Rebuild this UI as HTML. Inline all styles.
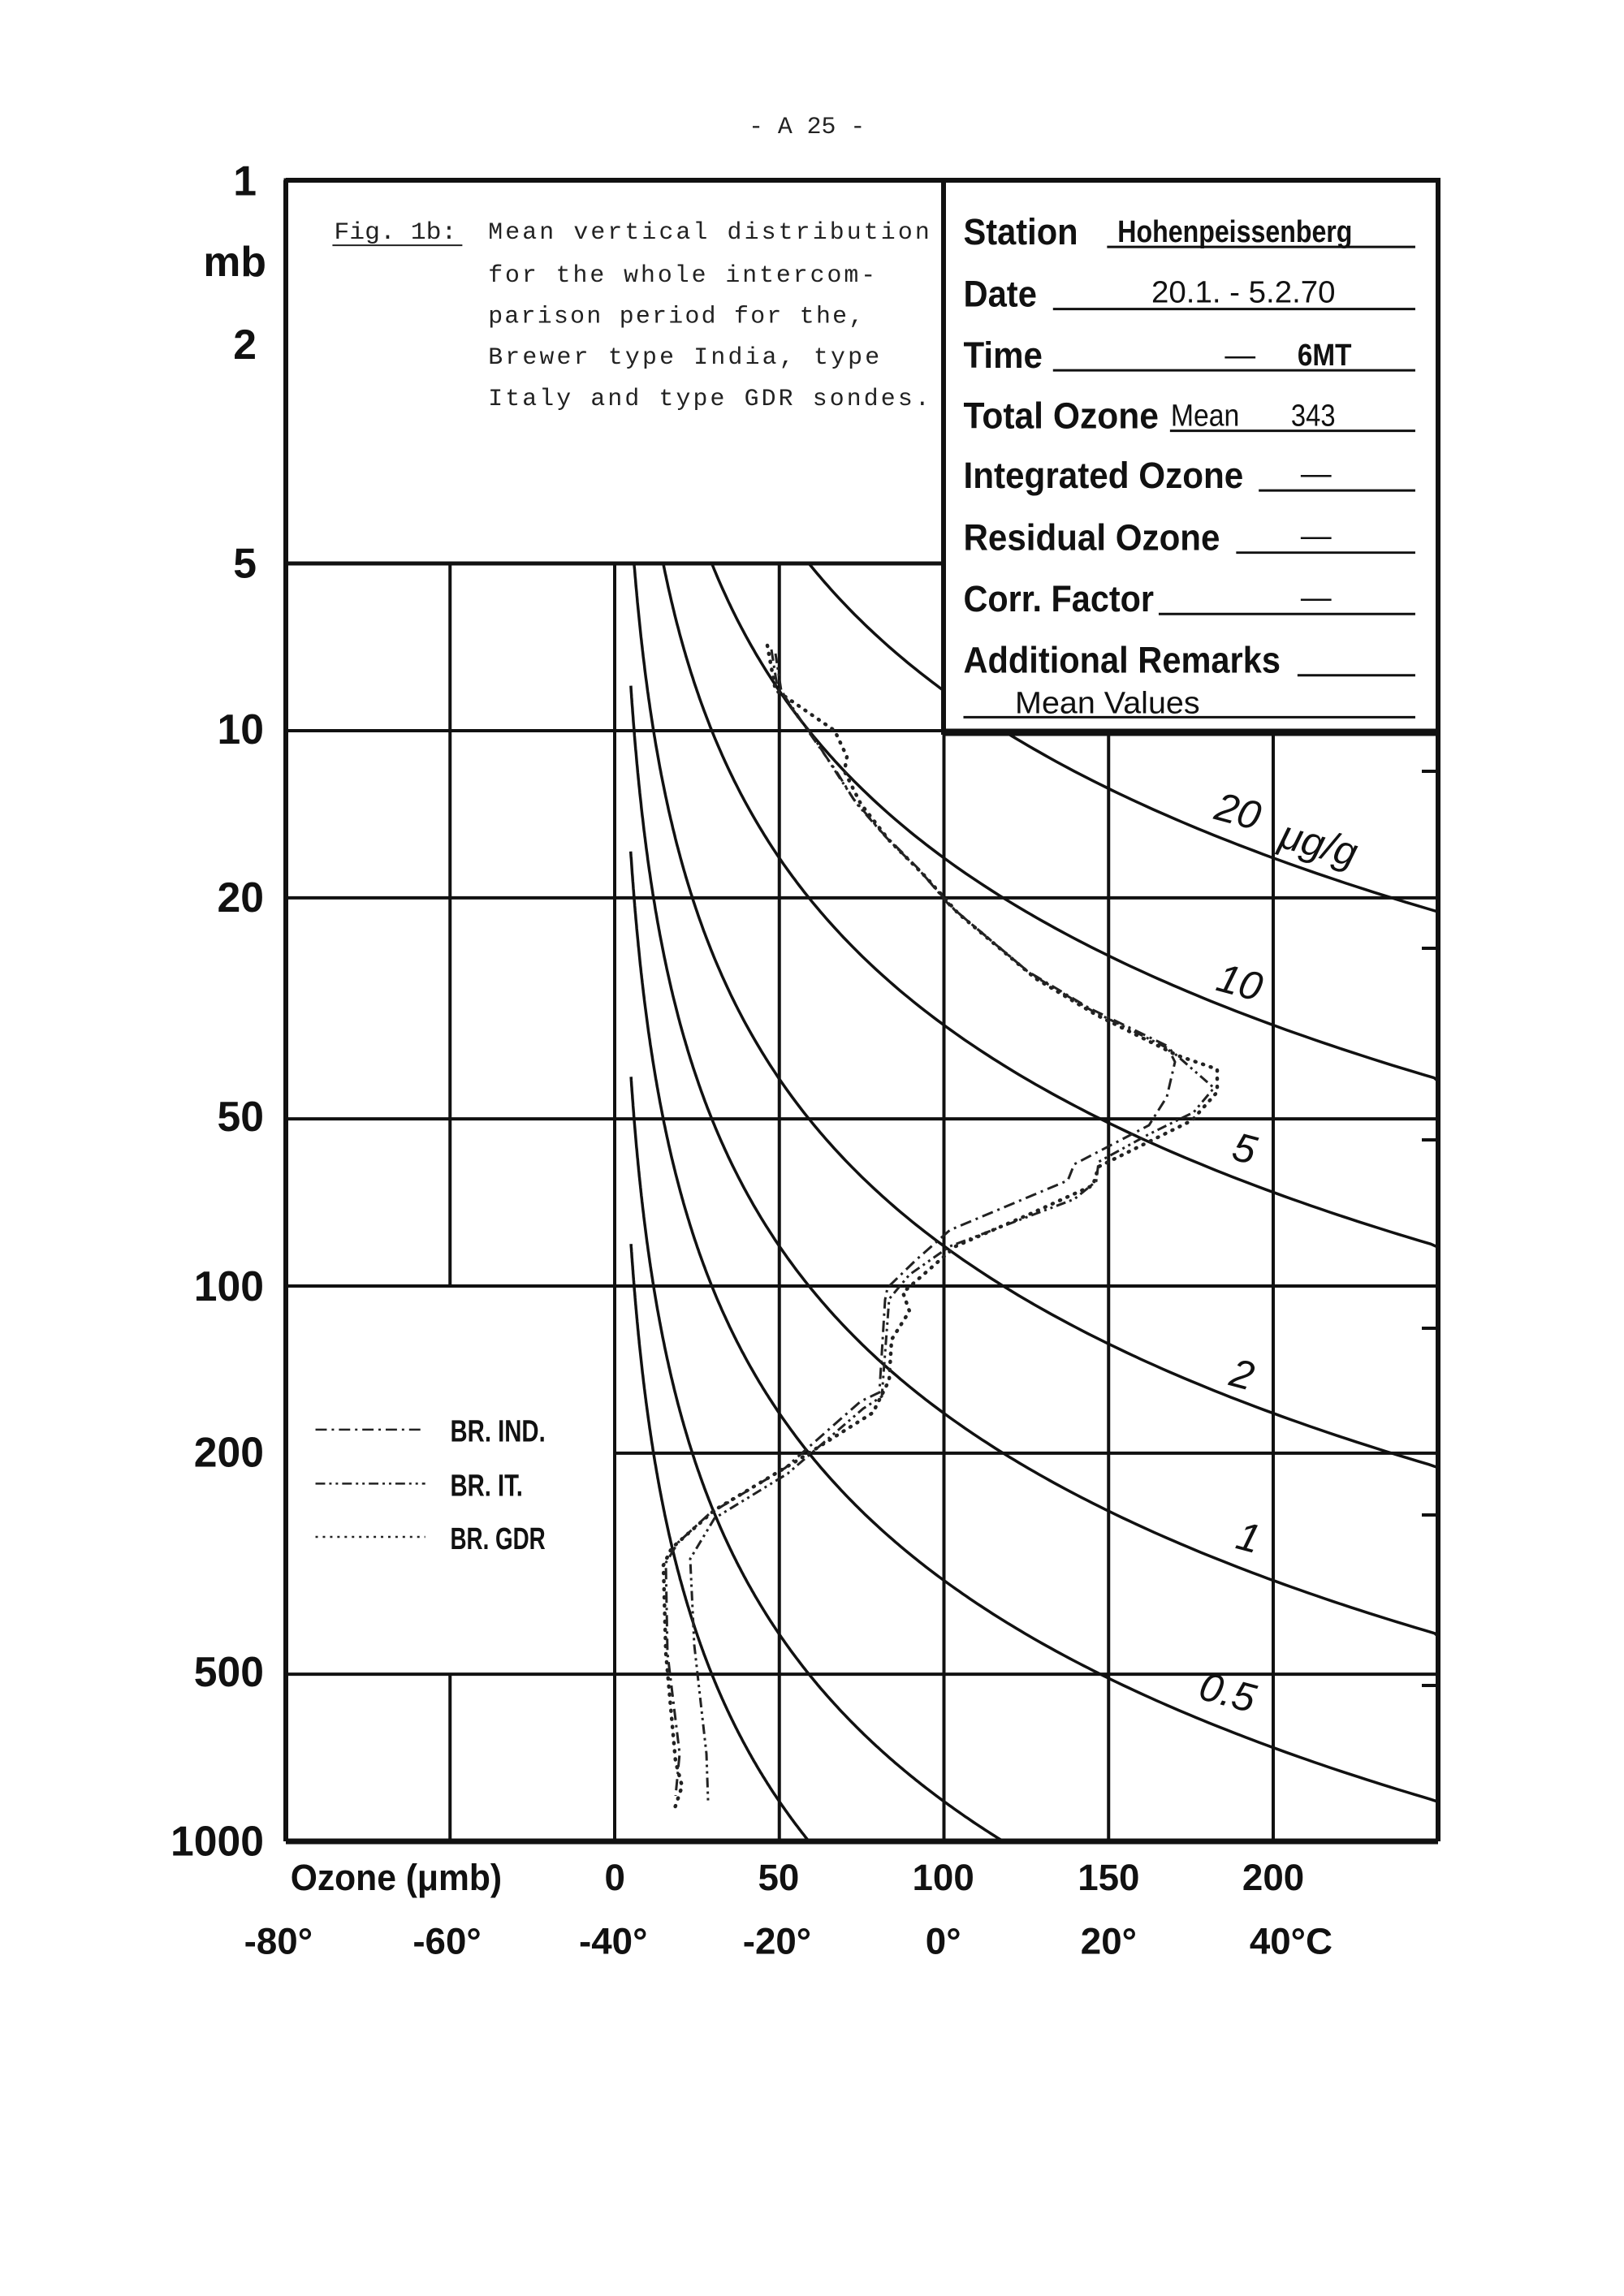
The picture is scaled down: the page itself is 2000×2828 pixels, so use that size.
<!DOCTYPE html>
<html><head><meta charset="utf-8"><style>
html,body{margin:0;padding:0;background:#fff}
svg{display:block}
.n{font-family:"Liberation Sans",sans-serif;font-weight:bold;fill:#111}
.m{font-family:"Liberation Mono",monospace;fill:#222}
.c{font-family:"Liberation Sans",sans-serif;font-style:italic;fill:#111}
</style></head><body>
<svg id="s" width="2000" height="2828" viewBox="0 0 2000 2828" xmlns="http://www.w3.org/2000/svg">
<rect width="2000" height="2828" fill="#fff"/>
<g id="grid" stroke="#111" fill="none"></g>
<g id="curves" stroke="#111" stroke-width="3.5" fill="none"></g>
<g id="series" fill="none" stroke="#222" stroke-width="3"></g>
<!-- header boxes -->
<rect x="352" y="222" width="810" height="472" fill="#fff" stroke="#111" stroke-width="5"/>
<rect x="1162" y="222" width="609" height="680" fill="#fff" stroke="#111" stroke-width="6"/>
<line x1="1162" y1="902" x2="1771" y2="902" stroke="#111" stroke-width="9"/>
<line x1="352" y1="222" x2="1771" y2="222" stroke="#111" stroke-width="6"/>
<line x1="352" y1="222" x2="352" y2="2268" stroke="#111" stroke-width="6"/>
<line x1="1771" y1="222" x2="1771" y2="2268" stroke="#111" stroke-width="6"/>
<line x1="352" y1="2268" x2="1771" y2="2268" stroke="#111" stroke-width="7"/>

<g transform="scale(0.9937)">
<text x="1000" y="165" class="m" font-size="30" text-anchor="middle">- A 25 -</text>

<!-- caption -->
<g class="m" font-size="30">
<text x="414" y="296" textLength="152" lengthAdjust="spacingAndGlyphs">Fig. 1b:</text>
<line x1="412" y1="304" x2="573" y2="304" stroke="#222" stroke-width="2"/>
<text x="605" y="296" textLength="547">Mean vertical distribution</text>
<text x="605" y="349" textLength="480">for the whole intercom-</text>
<text x="605" y="400" textLength="465">parison period for the,</text>
<text x="605" y="451" textLength="485">Brewer type India, type</text>
<text x="605" y="502" textLength="547">Italy and type GDR sondes.</text>
</g>

<!-- station block -->
<g class="n" font-size="46" style="font-weight:600">
<text x="1194" y="303" textLength="142" lengthAdjust="spacingAndGlyphs">Station</text>
<text x="1194" y="380" textLength="91" lengthAdjust="spacingAndGlyphs">Date</text>
<text x="1194" y="456" textLength="98" lengthAdjust="spacingAndGlyphs">Time</text>
<text x="1194" y="531" textLength="242" lengthAdjust="spacingAndGlyphs">Total Ozone</text>
<text x="1194" y="605" textLength="347" lengthAdjust="spacingAndGlyphs">Integrated Ozone</text>
<text x="1194" y="682" textLength="318" lengthAdjust="spacingAndGlyphs">Residual Ozone</text>
<text x="1194" y="758" textLength="236" lengthAdjust="spacingAndGlyphs">Corr. Factor</text>
<text x="1194" y="834" textLength="393" lengthAdjust="spacingAndGlyphs">Additional Remarks</text>
</g>
<g class="n" font-size="38">
<text x="1385" y="300" textLength="291" lengthAdjust="spacingAndGlyphs">Hohenpeissenberg</text>
<text x="1427" y="375" textLength="228" lengthAdjust="spacingAndGlyphs" font-weight="normal">20.1. - 5.2.70</text>
<text x="1518" y="453" font-weight="normal">—</text>
<text x="1608" y="453" textLength="67" lengthAdjust="spacingAndGlyphs">6MT</text>
<text x="1451" y="528" textLength="85" lengthAdjust="spacingAndGlyphs" font-weight="normal">Mean</text>
<text x="1600" y="528" textLength="55" lengthAdjust="spacingAndGlyphs" font-weight="normal">343</text>
<text x="1612" y="600" font-weight="normal">—</text>
<text x="1612" y="677" font-weight="normal">—</text>
<text x="1612" y="753" font-weight="normal">—</text>
<text x="1258" y="884" textLength="229" lengthAdjust="spacingAndGlyphs" font-weight="normal">Mean Values</text>
</g>
<g stroke="#111" stroke-width="3">
<line x1="1372" y1="306" x2="1754" y2="306"/>
<line x1="1305" y1="383" x2="1754" y2="383"/>
<line x1="1305" y1="459" x2="1754" y2="459"/>
<line x1="1450" y1="534" x2="1754" y2="534"/>
<line x1="1560" y1="608" x2="1754" y2="608"/>
<line x1="1532" y1="685" x2="1754" y2="685"/>
<line x1="1436" y1="761" x2="1754" y2="761"/>
<line x1="1608" y1="837" x2="1754" y2="837"/>
<line x1="1194" y1="889" x2="1754" y2="889"/>
</g>

<!-- y labels -->
<g class="n" font-size="52" text-anchor="end" style="font-weight:600">
<text x="318" y="242">1</text>
<text x="330" y="342">mb</text>
<text x="318" y="445">2</text>
<text x="318" y="716">5</text>
<text x="327" y="922">10</text>
<text x="327" y="1130">20</text>
<text x="327" y="1402">50</text>
<text x="327" y="1612">100</text>
<text x="327" y="1818">200</text>
<text x="327" y="2090">500</text>
<text x="327" y="2300">1000</text>
</g>
<g class="n" font-size="46" text-anchor="middle" style="font-weight:600">
<text x="491" y="2343" textLength="262" lengthAdjust="spacingAndGlyphs">Ozone (μmb)</text>
<text x="762" y="2343">0</text>
<text x="965" y="2343">50</text>
<text x="1169" y="2343">100</text>
<text x="1374" y="2343">150</text>
<text x="1578" y="2343">200</text>
<text x="345" y="2422">-80°</text>
<text x="554" y="2422">-60°</text>
<text x="760" y="2422">-40°</text>
<text x="963" y="2422">-20°</text>
<text x="1169" y="2422">0°</text>
<text x="1374" y="2422">20°</text>
<text x="1600" y="2422">40°C</text>
</g>

<!-- legend -->
<g stroke="#222" stroke-width="2.5">
<line x1="391" y1="1772" x2="527" y2="1772" stroke-dasharray="14 6 3 6"/>
<line x1="391" y1="1839" x2="527" y2="1839" stroke-dasharray="12 5 3 5 3 5"/>
<line x1="391" y1="1905" x2="527" y2="1905" stroke-dasharray="3 6"/>
</g>
<g class="n" font-size="38">
<text x="558" y="1787" textLength="118" lengthAdjust="spacingAndGlyphs">BR. IND.</text>
<text x="558" y="1854" textLength="90" lengthAdjust="spacingAndGlyphs">BR. IT.</text>
<text x="558" y="1920" textLength="118" lengthAdjust="spacingAndGlyphs">BR. GDR</text>
</g>

<!-- curve labels -->
<g class="c" font-size="50" text-anchor="middle">
<text transform="translate(1530,1022) rotate(15)">20</text>
<text transform="translate(1630,1062) rotate(15)">μg/g</text>
<text transform="translate(1532,1234) rotate(15)">10</text>
<text transform="translate(1538,1440) rotate(15)">5</text>
<text transform="translate(1535,1720) rotate(15)">2</text>
<text transform="translate(1543,1922) rotate(15)">1</text>
<text transform="translate(1517,2114) rotate(15)">0.5</text>
</g>
</g>
</svg>
<script>
(function(){
var NS="http://www.w3.org/2000/svg";
function X(v){return 757+4.055*v;}
function Y(p){return 900+684*Math.log10(p/10);}
function el(g,tag,a){var e=document.createElementNS(NS,tag);for(var k in a)e.setAttribute(k,a[k]);document.getElementById(g).appendChild(e);return e;}
function L(x1,y1,x2,y2,w){el("grid","line",{x1:x1,y1:y1,x2:x2,y2:y2,"stroke-width":w||4});}
L(352,Y(5),1162,Y(5));
[10,20,50,100,500].forEach(function(p){L(352,Y(p),1771,Y(p));});
L(757,Y(200),1771,Y(200));
L(X(-50),Y(5),X(-50),Y(100)); L(X(-50),Y(500),X(-50),2268);
L(X(0),Y(5),X(0),2268); L(X(50),Y(5),X(50),2268); L(X(100),222,X(100),2268);
L(X(150),Y(10),X(150),2268); L(X(200),Y(10),X(200),2268);
[950,1168,1404,1636,1866,2076].forEach(function(y){L(1751,y,1771,y,4);});
var k=0.59;
[[20,5],[10,5],[5,5],[2,5],[1,8.3],[0.5,16.5],[0.2,42],[0.1,84]].forEach(function(c){
 var r=c[0],p0=c[1],d="";
 for(var i=0;i<=400;i++){
  var p=p0*Math.pow(1000/p0,i/400);
  var v=k*r*p; if(v>250){v=250;}
  d+=(i?"L":"M")+X(v).toFixed(1)+","+Y(p).toFixed(1);
  if(v>=250)break;
 }
 el("curves","path",{d:d});
});
var A="950,800 957,845 975,870 997,903 1030,950 1051,984 1085,1024 1131,1070 1170,1116 1265,1196 1342,1242 1437,1288 1447,1308 1437,1351 1415,1386 1323,1434 1315,1454 1170,1515 1128,1552 1093,1586 1090,1601 1083,1715 1060,1726 967,1808 873,1865 835,1900 820,1925 822,2036 837,2160 832,2212";
var B="955,805 962,850 980,880 1000,905 1032,955 1055,990 1090,1030 1135,1075 1175,1120 1270,1200 1345,1245 1440,1292 1495,1340 1470,1370 1415,1397 1353,1431 1350,1455 1323,1477 1170,1535 1120,1570 1095,1600 1092,1640 1086,1720 1063,1735 970,1815 880,1870 850,1920 855,2026 870,2160 872,2218";
var C="945,795 955,850 970,860 1028,900 1043,932 1040,950 1060,990 1095,1035 1140,1080 1180,1125 1275,1205 1350,1250 1450,1300 1499,1317 1499,1345 1468,1380 1353,1437 1346,1460 1269,1495 1177,1535 1112,1592 1120,1615 1098,1650 1095,1700 1075,1740 980,1800 880,1860 827,1907 817,1928 820,2036 832,2170 840,2200 830,2230";
el("series","polyline",{points:A,"stroke-dasharray":"14 6 3 6"});
el("series","polyline",{points:B,"stroke-dasharray":"12 5 3 5 3 5"});
el("series","polyline",{points:C,"stroke-dasharray":"1 9","stroke-linecap":"round","stroke-width":"4.5"});
})();
</script>
</body></html>
